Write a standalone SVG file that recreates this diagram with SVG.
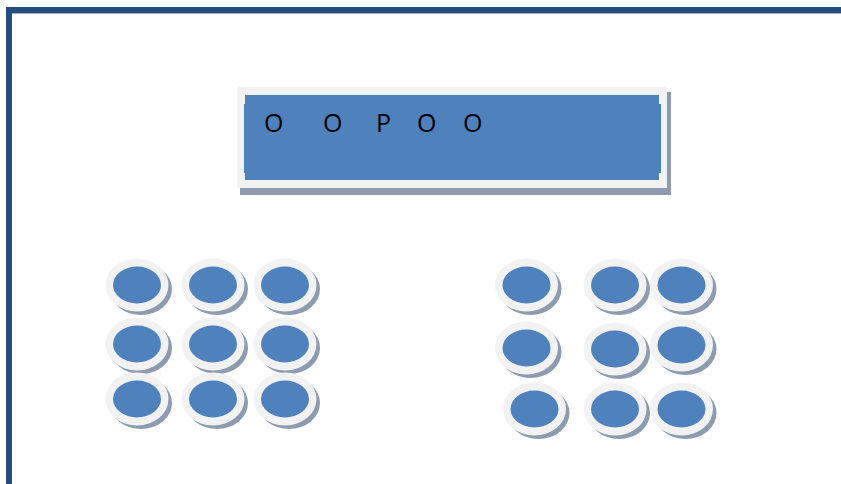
<svg xmlns="http://www.w3.org/2000/svg" width="841" height="484" viewBox="0 0 841 484">
<style>
.sh{fill:#8d9bb0}
.rim{fill:#f2f2f2}
.core{fill:#4f81bd}
.lbl{font-family:"Open Sans","Liberation Sans",sans-serif;font-size:25px;fill:#000}
</style>
<defs>
<g id="disc">
<ellipse class="sh" cx="4" cy="4" rx="31" ry="26"/>
<ellipse class="rim" cx="0" cy="0" rx="31.5" ry="26.5"/>
<ellipse class="core" cx="0" cy="0" rx="24" ry="18.5"/>
</g>
</defs>
<rect width="841" height="484" fill="#fff"/>
<g id="border">
<rect x="6" y="7" width="835" height="6" fill="#244d7d"/>
<rect x="6" y="7" width="6" height="477" fill="#244d7d"/>
<line x1="12" y1="13.5" x2="841" y2="13.5" stroke="#9fb3cc" stroke-width="1"/>
</g>
<g id="title">
<rect class="sh" x="240" y="92" width="431" height="103"/>
<rect class="rim" x="237" y="87" width="430" height="101"/>
<rect class="core" x="245" y="95" width="414" height="85"/>
<rect class="core" x="244" y="104" width="417" height="69"/>
<text class="lbl"><tspan x="264" y="132">O</tspan><tspan x="323" y="132">O</tspan><tspan x="376" y="132">P</tspan><tspan x="417" y="132">O</tspan><tspan x="463" y="132">O</tspan></text>
</g>
<g id="left-group">
<g id="l11"><use href="#disc" x="137" y="285"/></g>
<g id="l12"><use href="#disc" x="213" y="285"/></g>
<g id="l13"><use href="#disc" x="285" y="285"/></g>
<g id="l21"><use href="#disc" x="137" y="344"/></g>
<g id="l22"><use href="#disc" x="213" y="344"/></g>
<g id="l23"><use href="#disc" x="285" y="344"/></g>
<g id="l31"><use href="#disc" x="137" y="399"/></g>
<g id="l32"><use href="#disc" x="213" y="399"/></g>
<g id="l33"><use href="#disc" x="285" y="399"/></g>
</g>
<g id="right-group">
<g id="r11"><use href="#disc" x="526.5" y="285"/></g>
<g id="r12"><use href="#disc" x="615" y="285"/></g>
<g id="r13"><use href="#disc" x="681.5" y="285"/></g>
<g id="r21"><use href="#disc" x="526.5" y="348"/></g>
<g id="r22"><use href="#disc" x="615" y="349"/></g>
<g id="r23"><use href="#disc" x="681.5" y="345"/></g>
<g id="r31"><use href="#disc" x="534.5" y="409"/></g>
<g id="r32"><use href="#disc" x="615" y="409"/></g>
<g id="r33"><use href="#disc" x="681.5" y="409"/></g>
</g>
<g id="connectors"/>
</svg>
